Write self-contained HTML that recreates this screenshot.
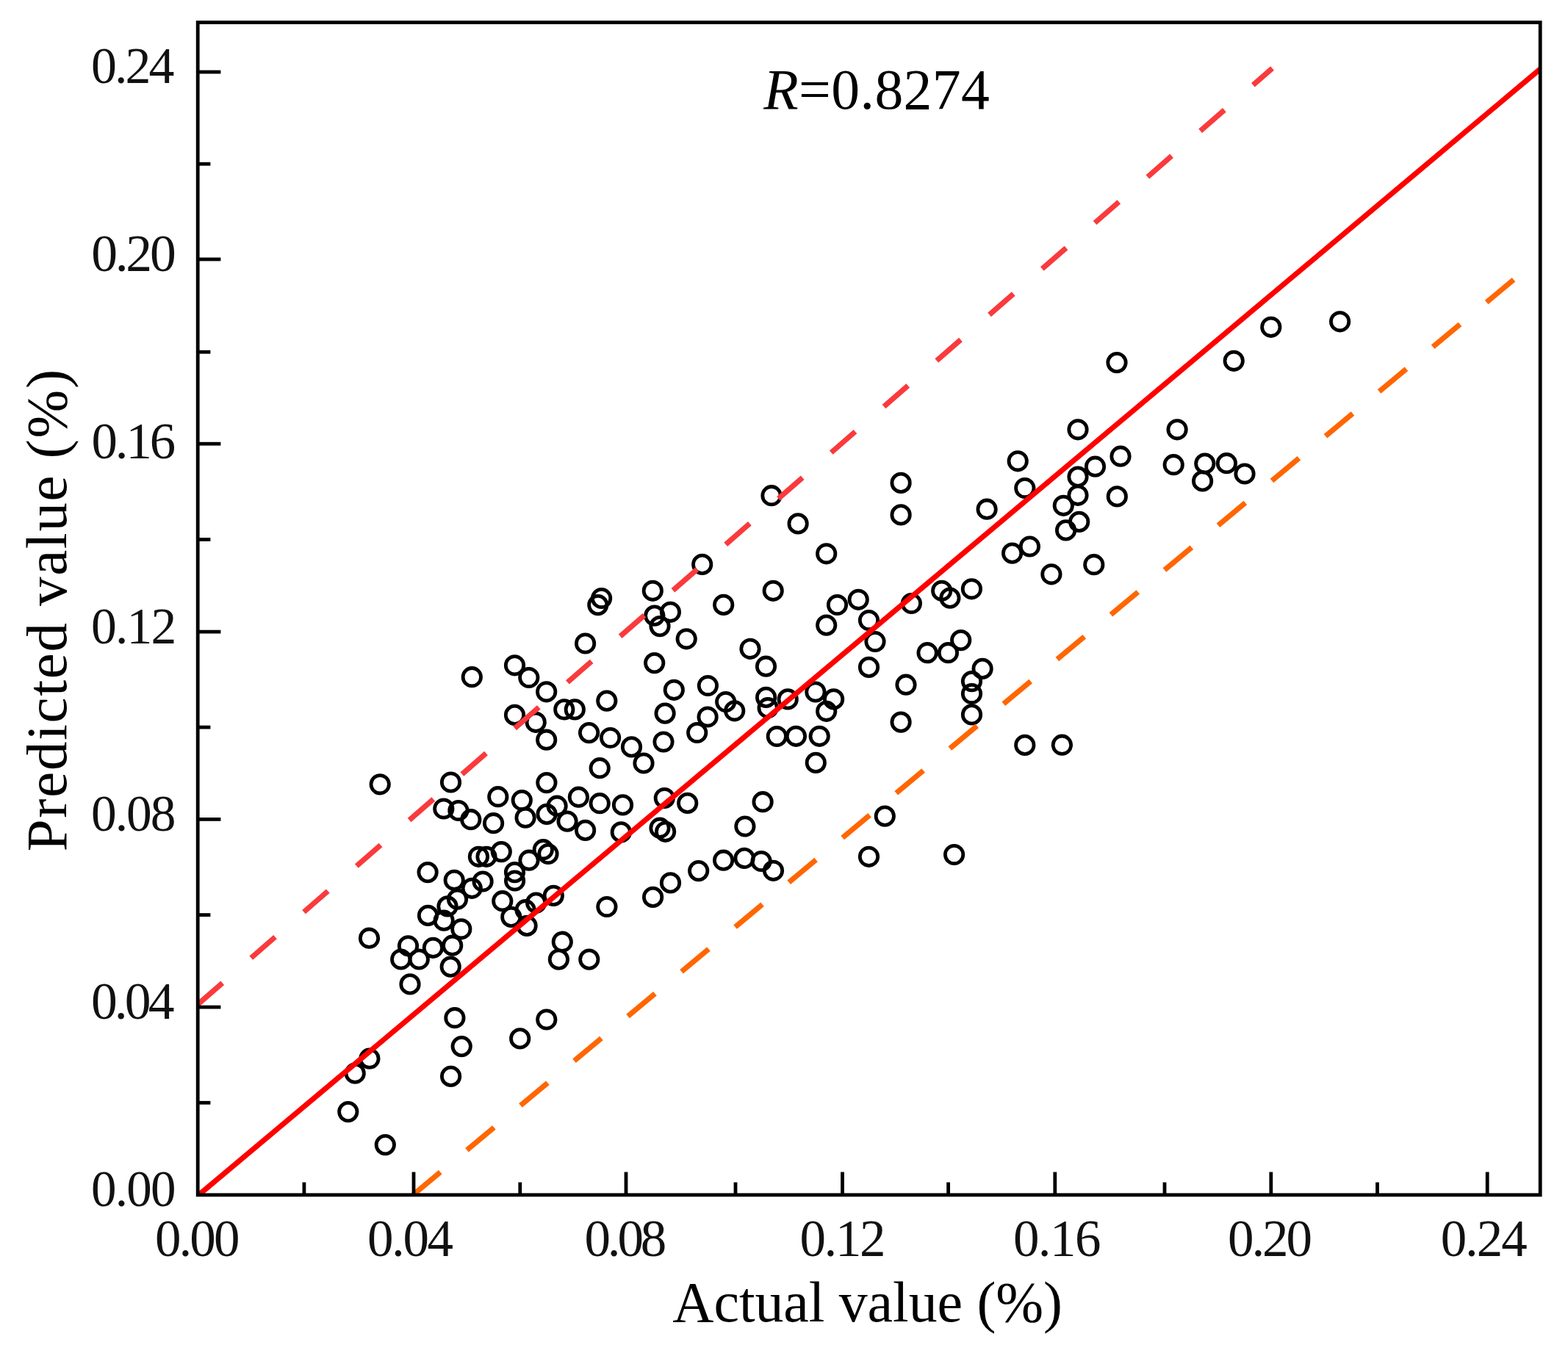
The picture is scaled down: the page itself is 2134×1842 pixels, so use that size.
<!DOCTYPE html><html><head><meta charset="utf-8"><title>Predicted vs Actual</title><style>html,body{margin:0;padding:0;background:#fff;width:2134px;height:1842px;overflow:hidden}svg{display:block}</style></head><body>
<svg width="2134" height="1842" viewBox="0 0 2134 1842">
<rect width="2134" height="1842" fill="#fff"/>
<g fill="none" stroke="#000" stroke-width="4.8">
<circle cx="1520.0" cy="493.6" r="12.2"/>
<circle cx="1467.0" cy="584.8" r="12.2"/>
<circle cx="1602.1" cy="584.8" r="12.2"/>
<circle cx="1385.2" cy="627.8" r="12.2"/>
<circle cx="1490.5" cy="635.2" r="12.2"/>
<circle cx="1525.0" cy="621.2" r="12.2"/>
<circle cx="1597.2" cy="632.7" r="12.2"/>
<circle cx="1467.0" cy="649.1" r="12.2"/>
<circle cx="1729.8" cy="445.3" r="12.2"/>
<circle cx="1823.6" cy="437.8" r="12.2"/>
<circle cx="1679.2" cy="491.3" r="12.2"/>
<circle cx="1639.8" cy="631.1" r="12.2"/>
<circle cx="1669.4" cy="630.7" r="12.2"/>
<circle cx="1694.0" cy="645.0" r="12.2"/>
<circle cx="1636.6" cy="654.9" r="12.2"/>
<circle cx="1394.8" cy="664.5" r="12.2"/>
<circle cx="1343.1" cy="693.2" r="12.2"/>
<circle cx="1467.0" cy="674.3" r="12.2"/>
<circle cx="1447.3" cy="688.3" r="12.2"/>
<circle cx="1468.7" cy="710.4" r="12.2"/>
<circle cx="1450.6" cy="721.9" r="12.2"/>
<circle cx="1520.3" cy="675.9" r="12.2"/>
<circle cx="1377.6" cy="753.1" r="12.2"/>
<circle cx="1401.4" cy="744.0" r="12.2"/>
<circle cx="1430.9" cy="781.8" r="12.2"/>
<circle cx="1488.8" cy="768.7" r="12.2"/>
<circle cx="1050.0" cy="674.7" r="12.2"/>
<circle cx="1226.1" cy="657.4" r="12.2"/>
<circle cx="1226.1" cy="700.9" r="12.2"/>
<circle cx="1086.1" cy="712.9" r="12.2"/>
<circle cx="1124.7" cy="753.8" r="12.2"/>
<circle cx="1052.2" cy="804.3" r="12.2"/>
<circle cx="1139.5" cy="823.5" r="12.2"/>
<circle cx="1168.2" cy="816.3" r="12.2"/>
<circle cx="1124.7" cy="851.1" r="12.2"/>
<circle cx="1182.5" cy="844.5" r="12.2"/>
<circle cx="1240.4" cy="821.5" r="12.2"/>
<circle cx="1281.7" cy="804.3" r="12.2"/>
<circle cx="1292.9" cy="814.1" r="12.2"/>
<circle cx="1322.4" cy="801.8" r="12.2"/>
<circle cx="1307.7" cy="871.6" r="12.2"/>
<circle cx="818.6" cy="814.5" r="12.2"/>
<circle cx="813.8" cy="823.6" r="12.2"/>
<circle cx="888.3" cy="804.3" r="12.2"/>
<circle cx="890.8" cy="838.1" r="12.2"/>
<circle cx="912.4" cy="833.3" r="12.2"/>
<circle cx="898.0" cy="852.6" r="12.2"/>
<circle cx="796.6" cy="876.0" r="12.2"/>
<circle cx="934.2" cy="869.8" r="12.2"/>
<circle cx="890.7" cy="902.6" r="12.2"/>
<circle cx="917.3" cy="939.3" r="12.2"/>
<circle cx="963.4" cy="933.5" r="12.2"/>
<circle cx="700.5" cy="905.8" r="12.2"/>
<circle cx="719.8" cy="922.5" r="12.2"/>
<circle cx="743.7" cy="941.8" r="12.2"/>
<circle cx="767.8" cy="965.9" r="12.2"/>
<circle cx="782.3" cy="965.9" r="12.2"/>
<circle cx="825.8" cy="954.1" r="12.2"/>
<circle cx="700.5" cy="973.4" r="12.2"/>
<circle cx="729.2" cy="983.3" r="12.2"/>
<circle cx="743.7" cy="1007.2" r="12.2"/>
<circle cx="801.6" cy="997.6" r="12.2"/>
<circle cx="830.6" cy="1004.5" r="12.2"/>
<circle cx="859.5" cy="1016.9" r="12.2"/>
<circle cx="955.7" cy="768.4" r="12.2"/>
<circle cx="984.7" cy="823.4" r="12.2"/>
<circle cx="905.1" cy="971.1" r="12.2"/>
<circle cx="963.1" cy="976.0" r="12.2"/>
<circle cx="999.7" cy="967.8" r="12.2"/>
<circle cx="987.7" cy="955.5" r="12.2"/>
<circle cx="1042.5" cy="907.2" r="12.2"/>
<circle cx="948.7" cy="997.5" r="12.2"/>
<circle cx="903.0" cy="1010.0" r="12.2"/>
<circle cx="1042.6" cy="949.4" r="12.2"/>
<circle cx="1045.1" cy="963.7" r="12.2"/>
<circle cx="1057.3" cy="1002.5" r="12.2"/>
<circle cx="1021.0" cy="883.3" r="12.2"/>
<circle cx="1182.5" cy="908.4" r="12.2"/>
<circle cx="1262.1" cy="888.7" r="12.2"/>
<circle cx="1290.4" cy="888.7" r="12.2"/>
<circle cx="1233.0" cy="932.2" r="12.2"/>
<circle cx="1226.1" cy="983.1" r="12.2"/>
<circle cx="1072.2" cy="951.9" r="12.2"/>
<circle cx="1109.9" cy="942.0" r="12.2"/>
<circle cx="1124.7" cy="968.3" r="12.2"/>
<circle cx="1134.6" cy="951.9" r="12.2"/>
<circle cx="1083.4" cy="1002.3" r="12.2"/>
<circle cx="1115.2" cy="1002.3" r="12.2"/>
<circle cx="1110.3" cy="1038.4" r="12.2"/>
<circle cx="1038.1" cy="1091.7" r="12.2"/>
<circle cx="1013.9" cy="1125.0" r="12.2"/>
<circle cx="1204.3" cy="1111.1" r="12.2"/>
<circle cx="1337.1" cy="910.4" r="12.2"/>
<circle cx="1322.5" cy="927.6" r="12.2"/>
<circle cx="1322.5" cy="944.5" r="12.2"/>
<circle cx="1322.5" cy="972.9" r="12.2"/>
<circle cx="1394.8" cy="1014.4" r="12.2"/>
<circle cx="1445.4" cy="1014.2" r="12.2"/>
<circle cx="1013.1" cy="1168.4" r="12.2"/>
<circle cx="1036.1" cy="1172.5" r="12.2"/>
<circle cx="1052.5" cy="1185.3" r="12.2"/>
<circle cx="1182.5" cy="1166.3" r="12.2"/>
<circle cx="1298.6" cy="1163.5" r="12.2"/>
<circle cx="517.2" cy="1067.8" r="12.2"/>
<circle cx="613.5" cy="1065.0" r="12.2"/>
<circle cx="603.8" cy="1101.0" r="12.2"/>
<circle cx="623.9" cy="1103.5" r="12.2"/>
<circle cx="640.8" cy="1115.7" r="12.2"/>
<circle cx="671.6" cy="1120.7" r="12.2"/>
<circle cx="677.8" cy="1084.7" r="12.2"/>
<circle cx="582.1" cy="1187.6" r="12.2"/>
<circle cx="618.2" cy="1198.3" r="12.2"/>
<circle cx="715.1" cy="1113.2" r="12.2"/>
<circle cx="744.1" cy="1108.4" r="12.2"/>
<circle cx="772.1" cy="1118.1" r="12.2"/>
<circle cx="651.4" cy="1166.3" r="12.2"/>
<circle cx="662.0" cy="1166.3" r="12.2"/>
<circle cx="682.3" cy="1159.6" r="12.2"/>
<circle cx="739.3" cy="1156.7" r="12.2"/>
<circle cx="746.0" cy="1162.5" r="12.2"/>
<circle cx="720.0" cy="1171.2" r="12.2"/>
<circle cx="700.5" cy="1187.6" r="12.2"/>
<circle cx="683.8" cy="1226.7" r="12.2"/>
<circle cx="715.1" cy="1238.7" r="12.2"/>
<circle cx="717.1" cy="1260.4" r="12.2"/>
<circle cx="695.8" cy="1248.4" r="12.2"/>
<circle cx="753.3" cy="1219.4" r="12.2"/>
<circle cx="729.6" cy="1229.1" r="12.2"/>
<circle cx="765.3" cy="1282.2" r="12.2"/>
<circle cx="622.5" cy="1224.2" r="12.2"/>
<circle cx="609.0" cy="1233.9" r="12.2"/>
<circle cx="642.3" cy="1209.3" r="12.2"/>
<circle cx="627.8" cy="1264.8" r="12.2"/>
<circle cx="604.1" cy="1253.2" r="12.2"/>
<circle cx="642.3" cy="921.7" r="12.2"/>
<circle cx="816.2" cy="1045.7" r="12.2"/>
<circle cx="876.0" cy="1039.0" r="12.2"/>
<circle cx="787.4" cy="1085.2" r="12.2"/>
<circle cx="816.2" cy="1093.7" r="12.2"/>
<circle cx="847.5" cy="1095.9" r="12.2"/>
<circle cx="796.6" cy="1130.4" r="12.2"/>
<circle cx="845.3" cy="1132.9" r="12.2"/>
<circle cx="904.3" cy="1086.5" r="12.2"/>
<circle cx="935.7" cy="1093.4" r="12.2"/>
<circle cx="898.0" cy="1127.2" r="12.2"/>
<circle cx="905.6" cy="1132.3" r="12.2"/>
<circle cx="984.6" cy="1171.2" r="12.2"/>
<circle cx="950.7" cy="1185.6" r="12.2"/>
<circle cx="912.5" cy="1201.9" r="12.2"/>
<circle cx="888.6" cy="1221.4" r="12.2"/>
<circle cx="825.9" cy="1234.5" r="12.2"/>
<circle cx="743.9" cy="1065.6" r="12.2"/>
<circle cx="710.3" cy="1089.5" r="12.2"/>
<circle cx="758.1" cy="1097.2" r="12.2"/>
<circle cx="502.5" cy="1277.2" r="12.2"/>
<circle cx="555.5" cy="1287.8" r="12.2"/>
<circle cx="545.7" cy="1306.0" r="12.2"/>
<circle cx="570.3" cy="1306.0" r="12.2"/>
<circle cx="558.0" cy="1339.9" r="12.2"/>
<circle cx="589.4" cy="1290.3" r="12.2"/>
<circle cx="613.2" cy="1316.1" r="12.2"/>
<circle cx="582.5" cy="1246.4" r="12.2"/>
<circle cx="615.7" cy="1287.2" r="12.2"/>
<circle cx="618.9" cy="1385.7" r="12.2"/>
<circle cx="502.9" cy="1441.2" r="12.2"/>
<circle cx="483.2" cy="1461.2" r="12.2"/>
<circle cx="628.2" cy="1424.6" r="12.2"/>
<circle cx="707.7" cy="1413.9" r="12.2"/>
<circle cx="613.6" cy="1465.4" r="12.2"/>
<circle cx="743.8" cy="1388.0" r="12.2"/>
<circle cx="473.8" cy="1513.6" r="12.2"/>
<circle cx="524.3" cy="1558.6" r="12.2"/>
<circle cx="760.4" cy="1306.1" r="12.2"/>
<circle cx="801.8" cy="1306.1" r="12.2"/>
<circle cx="1191.0" cy="873.5" r="12.2"/>
<circle cx="657.1" cy="1200.0" r="12.2"/>
<circle cx="700.6" cy="1199.0" r="12.2"/>
</g>
<defs><clipPath id="cp"><rect x="269" y="30" width="1828" height="1598"/></clipPath></defs>
<g clip-path="url(#cp)" fill="none" stroke-width="7.2">
<line x1="270" y1="1627.2" x2="2096" y2="94.1" stroke="#ff0000"/>
<line x1="270.0" y1="1366.7" x2="1731.5" y2="93.0" stroke="#fa3a3c" stroke-dasharray="43.4 51.8"/>
<line x1="562.4" y1="1626.5" x2="2096.0" y2="350.9" stroke="#ff6600" stroke-dasharray="48 47"/>
</g>
<rect x="269.2" y="30.5" width="1827" height="1596.3" fill="none" stroke="#000" stroke-width="4.8"/>
<g stroke="#000" stroke-width="4.8">
<line x1="269" y1="1501.3" x2="286.4" y2="1501.3"/>
<line x1="413.9" y1="1627" x2="413.9" y2="1609.6"/>
<line x1="269" y1="1371.1" x2="300.4" y2="1371.1"/>
<line x1="563.0" y1="1627" x2="563.0" y2="1595.6"/>
<line x1="269" y1="1245.6" x2="286.4" y2="1245.6"/>
<line x1="707.8" y1="1627" x2="707.8" y2="1609.6"/>
<line x1="269" y1="1115.4" x2="300.4" y2="1115.4"/>
<line x1="852.0" y1="1627" x2="852.0" y2="1595.6"/>
<line x1="269" y1="990.1" x2="286.4" y2="990.1"/>
<line x1="1001.0" y1="1627" x2="1001.0" y2="1609.6"/>
<line x1="269" y1="860.1" x2="300.4" y2="860.1"/>
<line x1="1146.5" y1="1627" x2="1146.5" y2="1595.6"/>
<line x1="269" y1="734.5" x2="286.4" y2="734.5"/>
<line x1="1290.6" y1="1627" x2="1290.6" y2="1609.6"/>
<line x1="269" y1="604.2" x2="300.4" y2="604.2"/>
<line x1="1435.8" y1="1627" x2="1435.8" y2="1595.6"/>
<line x1="269" y1="479.2" x2="286.4" y2="479.2"/>
<line x1="1585.0" y1="1627" x2="1585.0" y2="1609.6"/>
<line x1="269" y1="353.0" x2="300.4" y2="353.0"/>
<line x1="1729.8" y1="1627" x2="1729.8" y2="1595.6"/>
<line x1="269" y1="223.2" x2="286.4" y2="223.2"/>
<line x1="1874.5" y1="1627" x2="1874.5" y2="1609.6"/>
<line x1="269" y1="98.0" x2="300.4" y2="98.0"/>
<line x1="2024.2" y1="1627" x2="2024.2" y2="1595.6"/>
</g>
<text x="180.80" y="1641.90" font-family="Liberation Serif, serif" font-size="69.00" letter-spacing="-1.79" fill="#111" text-anchor="middle">0.00</text>
<text x="267.20" y="1710.15" font-family="Liberation Serif, serif" font-size="71.02" letter-spacing="-2.91" fill="#111" text-anchor="middle">0.00</text>
<text x="178.80" y="1387.20" font-family="Liberation Serif, serif" font-size="71.60" letter-spacing="-3.91" fill="#111" text-anchor="middle">0.04</text>
<text x="557.30" y="1710.15" font-family="Liberation Serif, serif" font-size="71.02" letter-spacing="-2.38" fill="#111" text-anchor="middle">0.04</text>
<text x="180.80" y="1130.85" font-family="Liberation Serif, serif" font-size="69.33" letter-spacing="-1.96" fill="#111" text-anchor="middle">0.08</text>
<text x="849.30" y="1710.15" font-family="Liberation Serif, serif" font-size="71.02" letter-spacing="-4.11" fill="#111" text-anchor="middle">0.08</text>
<text x="181.30" y="875.70" font-family="Liberation Serif, serif" font-size="69.55" letter-spacing="-1.76" fill="#111" text-anchor="middle">0.12</text>
<text x="1145.80" y="1710.15" font-family="Liberation Serif, serif" font-size="71.02" letter-spacing="-2.37" fill="#111" text-anchor="middle">0.12</text>
<text x="180.30" y="623.85" font-family="Liberation Serif, serif" font-size="70.72" letter-spacing="-3.01" fill="#111" text-anchor="middle">0.16</text>
<text x="1437.90" y="1710.15" font-family="Liberation Serif, serif" font-size="71.02" letter-spacing="-1.57" fill="#111" text-anchor="middle">0.16</text>
<text x="180.30" y="369.40" font-family="Liberation Serif, serif" font-size="71.60" letter-spacing="-3.24" fill="#111" text-anchor="middle">0.20</text>
<text x="1727.00" y="1710.15" font-family="Liberation Serif, serif" font-size="71.02" letter-spacing="-3.04" fill="#111" text-anchor="middle">0.20</text>
<text x="179.30" y="112.95" font-family="Liberation Serif, serif" font-size="69.85" letter-spacing="-2.91" fill="#111" text-anchor="middle">0.24</text>
<text x="2018.70" y="1710.15" font-family="Liberation Serif, serif" font-size="71.02" letter-spacing="-2.04" fill="#111" text-anchor="middle">0.24</text>
<text x="1180.60" y="1799.25" font-family="Liberation Serif, serif" font-size="77.82" letter-spacing="-0.05" fill="#000" text-anchor="middle">Actual value (%)</text>
<text transform="translate(89.75,830.20) rotate(-90)" font-family="Liberation Serif, serif" font-size="78.91" letter-spacing="1.66" fill="#000" text-anchor="middle">Predicted value (%)</text>
<text x="1193.30" y="148.05" font-family="Liberation Serif, serif" font-size="77.67" letter-spacing="0.41" fill="#000" text-anchor="middle"><tspan font-style="italic">R</tspan>=0.8274</text>
</svg></body></html>
